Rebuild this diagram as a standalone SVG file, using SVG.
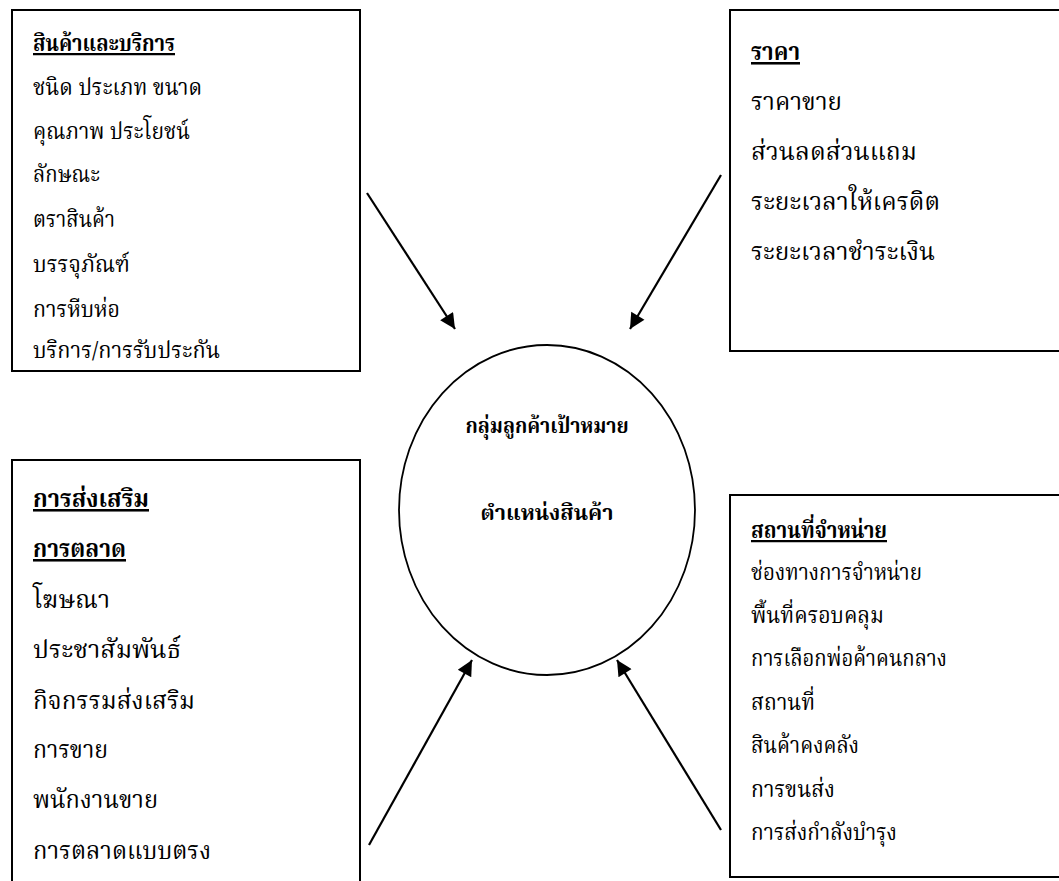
<svg xmlns="http://www.w3.org/2000/svg" width="1059" height="881" viewBox="0 0 1059 881">
  <style>
    .box { fill: #ffffff; stroke: #000000; stroke-width: 2; }
    .hub { fill: #ffffff; stroke: #000000; stroke-width: 1.8; }
    .conn { stroke: #000000; stroke-width: 2.2; fill: none; marker-end: url(#head); }
    text { font-family: "Noto Serif Thai", "Noto Sans Thai", "Liberation Serif", serif; fill: #000000; }
    .sm { font-size: 22.5px; }
    .lg { font-size: 25.5px; }
    .hd { font-weight: bold; text-decoration: underline; }
    .ctr { font-size: 22px; font-weight: bold; text-anchor: middle; }
  </style>
  <defs>
    <marker id="head" viewBox="0 0 10 10" refX="10" refY="5" markerWidth="8" markerHeight="7" markerUnits="strokeWidth" orient="auto">
      <path d="M0,0 L10,5 L0,10 z" fill="#000000"/>
    </marker>
  </defs>
  <rect width="1059" height="881" fill="#ffffff"/>

  <!-- product & service -->
  <g id="product">
    <rect class="box" x="12" y="10" width="348" height="361"/>
    <text class="sm hd" x="33" y="51" textLength="142" lengthAdjust="spacingAndGlyphs">สินค้าและบริการ</text>
    <text class="sm" x="33" y="95" textLength="169" lengthAdjust="spacingAndGlyphs">ชนิด ประเภท ขนาด</text>
    <text class="sm" x="33" y="139" textLength="157" lengthAdjust="spacingAndGlyphs">คุณภาพ ประโยชน์</text>
    <text class="sm" x="33" y="182" textLength="67" lengthAdjust="spacingAndGlyphs">ลักษณะ</text>
    <text class="sm" x="33" y="227" textLength="82" lengthAdjust="spacingAndGlyphs">ตราสินค้า</text>
    <text class="sm" x="33" y="272" textLength="97" lengthAdjust="spacingAndGlyphs">บรรจุภัณฑ์</text>
    <text class="sm" x="33" y="317" textLength="87" lengthAdjust="spacingAndGlyphs">การหีบห่อ</text>
    <text class="sm" x="33" y="358" textLength="187" lengthAdjust="spacingAndGlyphs">บริการ/การรับประกัน</text>
  </g>

  <!-- price -->
  <g id="price">
    <rect class="box" x="730" y="10" width="340" height="341"/>
    <text class="lg hd" x="751" y="60" textLength="49" lengthAdjust="spacingAndGlyphs">ราคา</text>
    <text class="lg" x="751" y="110" textLength="91" lengthAdjust="spacingAndGlyphs">ราคาขาย</text>
    <text class="lg" x="751" y="160" textLength="166" lengthAdjust="spacingAndGlyphs">ส่วนลดส่วนแถม</text>
    <text class="lg" x="751" y="210" textLength="189" lengthAdjust="spacingAndGlyphs">ระยะเวลาให้เครดิต</text>
    <text class="lg" x="751" y="260" textLength="184" lengthAdjust="spacingAndGlyphs">ระยะเวลาชำระเงิน</text>
  </g>

  <!-- promotion -->
  <g id="promotion">
    <rect class="box" x="12" y="460" width="348" height="440"/>
    <text class="lg hd" x="33" y="507" textLength="116" lengthAdjust="spacingAndGlyphs">การส่งเสริม</text>
    <text class="lg hd" x="33" y="557" textLength="93" lengthAdjust="spacingAndGlyphs">การตลาด</text>
    <text class="lg" x="33" y="608" textLength="77" lengthAdjust="spacingAndGlyphs">โฆษณา</text>
    <text class="lg" x="33" y="658" textLength="148" lengthAdjust="spacingAndGlyphs">ประชาสัมพันธ์</text>
    <text class="lg" x="33" y="709" textLength="162" lengthAdjust="spacingAndGlyphs">กิจกรรมส่งเสริม</text>
    <text class="lg" x="33" y="758" textLength="75" lengthAdjust="spacingAndGlyphs">การขาย</text>
    <text class="lg" x="33" y="808" textLength="125" lengthAdjust="spacingAndGlyphs">พนักงานขาย</text>
    <text class="lg" x="33" y="859" textLength="178" lengthAdjust="spacingAndGlyphs">การตลาดแบบตรง</text>
  </g>

  <!-- place -->
  <g id="place">
    <rect class="box" x="730" y="495" width="340" height="382"/>
    <text class="sm hd" x="751" y="538" textLength="136" lengthAdjust="spacingAndGlyphs">สถานที่จำหน่าย</text>
    <text class="sm" x="751" y="580" textLength="171" lengthAdjust="spacingAndGlyphs">ช่องทางการจำหน่าย</text>
    <text class="sm" x="751" y="623" textLength="133" lengthAdjust="spacingAndGlyphs">พื้นที่ครอบคลุม</text>
    <text class="sm" x="751" y="666" textLength="196" lengthAdjust="spacingAndGlyphs">การเลือกพ่อค้าคนกลาง</text>
    <text class="sm" x="751" y="710" textLength="64" lengthAdjust="spacingAndGlyphs">สถานที่</text>
    <text class="sm" x="751" y="753" textLength="108" lengthAdjust="spacingAndGlyphs">สินค้าคงคลัง</text>
    <text class="sm" x="751" y="797" textLength="84" lengthAdjust="spacingAndGlyphs">การขนส่ง</text>
    <text class="sm" x="751" y="840" textLength="146" lengthAdjust="spacingAndGlyphs">การส่งกำลังบำรุง</text>
  </g>

  <!-- target group / positioning -->
  <g id="target">
    <ellipse class="hub" cx="547" cy="510" rx="148" ry="165"/>
    <text class="ctr" x="547" y="433" textLength="163" lengthAdjust="spacingAndGlyphs">กลุ่มลูกค้าเป้าหมาย</text>
    <text class="ctr" x="547" y="520" textLength="133" lengthAdjust="spacingAndGlyphs">ตำแหน่งสินค้า</text>
  </g>

  <!-- arrows into the hub -->
  <g id="connectors">
    <line class="conn" x1="367" y1="193" x2="455" y2="329"/>
    <line class="conn" x1="721" y1="175" x2="630" y2="329"/>
    <line class="conn" x1="369" y1="845" x2="472" y2="660"/>
    <line class="conn" x1="721" y1="830" x2="617" y2="660"/>
  </g>
</svg>
